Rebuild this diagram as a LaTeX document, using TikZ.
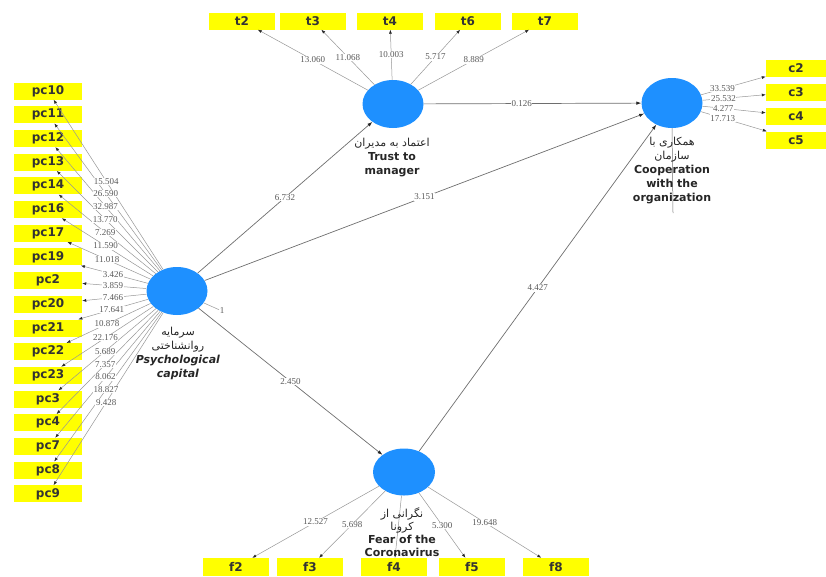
\documentclass[tikz,border=0pt]{standalone}
\usepackage{fontspec}
\setmainfont{DejaVu Sans}
\newfontfamily\numfont{Liberation Serif}
\newfontfamily\farsi[Script=Arabic]{DejaVu Sans}
\TeXXeTstate=1
\usetikzlibrary{arrows.meta,shapes.geometric}
\definecolor{lvblue}{RGB}{30,144,255}
\definecolor{mvyellow}{RGB}{255,255,0}
\definecolor{pathgray}{RGB}{110,110,110}
\definecolor{loadgray}{RGB}{150,150,150}
\tikzset{
  latent/.style={ellipse, fill=lvblue, minimum width=61pt, minimum height=48pt, inner sep=0pt},
  item/.style={rectangle, fill=mvyellow, minimum width=68pt, minimum height=17pt, inner sep=0pt,
    text=black!80, font=\bfseries\fontsize{12}{12}\selectfont},
  load/.style={draw=loadgray, line width=0.5pt, -{Latex[length=4pt,width=3pt,color=black!85]}},
  struct/.style={draw=pathgray, line width=0.7pt, -{Latex[length=5pt,width=3.5pt,color=black!85]}},
  num/.style={font=\numfont\fontsize{9}{9}\selectfont, text=black!65, inner sep=0.6pt, fill=white},
  lvtext/.style={align=center, text=black!85, font=\fontsize{11}{14}\selectfont}
}
\begin{document}
\begin{tikzpicture}[x=1pt,y=-1pt]
\useasboundingbox (0,0) rectangle (826,576);

% latent variables
\node[latent] (psycap) at (177,291) {};
\node[latent] (trust) at (393,104) {};
\node[latent, minimum height=50pt] (coop) at (672,103) {};
\node[latent, minimum width=62pt, minimum height=47pt] (fear) at (404,472) {};

% indicators
\foreach \n [count=\i from 0] in {10,11,12,13,14,16,17,19,2,20,21,22,23,3,4,7,8,9}
  \node[item] (pc\n) at (48,{91+\i*23.7}) {pc\n};
\foreach \n/\x in {2/242,3/313,4/390,6/468,7/545}
  \node[item, minimum width=66pt] (t\n) at (\x,21) {t\n};
\foreach \n/\y in {2/68,3/92,4/116,5/140}
  \node[item, minimum width=60pt] (c\n) at (796,\y) {c\n};
\foreach \n/\x in {2/236,3/310,4/394,5/472,8/556}
  \node[item, minimum width=66pt, minimum height=18pt] (f\n) at (\x,567) {f\n};

% outer loadings
\foreach \n in {10,11,12,13,14,16,17,19,2,20,21,22,23,3,4,7,8,9}
  \draw[load] (psycap) -- (pc\n);
\foreach \n/\v in {10/15.504,11/26.590,12/32.987,13/13.770,14/7.269,16/11.590,17/11.018,
    19/3.426,2/3.859,20/7.466,21/17.641,22/10.878,23/22.176,3/5.689,4/7.357,7/8.062,8/18.827,9/9.428}
  \path (psycap) -- (pc\n) node[num, pos=0.52] {\v};
\foreach \n/\v in {2/13.060,3/11.068,4/10.003,6/5.717,7/8.889}
  \draw[load] (trust) -- (t\n) node[num, pos=0.5] {\v};
\foreach \n/\v in {2/33.539,3/25.532,4/4.277,5/17.713}
  \draw[load] (coop) -- (c\n) node[num, pos=0.33] {\v};
\foreach \n/\v in {2/12.527,3/5.698,5/5.300,8/19.648}
  \draw[load] (fear) -- (f\n) node[num, pos=0.5] {\v};
\draw[load] (fear) -- (f4);

% path coefficients
\draw[struct] (psycap) -- (trust) node[num, pos=0.5] {6.732};
\draw[struct] (psycap) -- (coop) node[num, pos=0.5] {3.151};
\draw[struct] (trust) -- (coop) node[num, pos=0.45] {0.126};
\draw[struct] (psycap) -- (fear) node[num, pos=0.5] {2.450};
\draw[struct] (fear) -- (coop) node[num, pos=0.5] {4.427};

% small marks
\node[num, fill=none] (rsq) at (222,311) {1};
\draw[loadgray, line width=0.5pt] (psycap) -- (rsq);
\coordinate (coopend) at (673,213);
\draw[pathgray, line width=0.5pt] (coop.south) -- (coopend);

% names
\node[lvtext] (psylbl) at (178,353) {{\farsi\beginR سرمایه\endR}\\{\farsi\beginR روانشناختی\endR}\\
  \textbf{\textit{Psychological}}\\\textbf{\textit{capital}}};
\node[lvtext] (trustlbl) at (392,158) {{\farsi\beginR اعتماد به مدیران\endR}\\\textbf{Trust to}\\\textbf{manager}};
\node[lvtext] (cooplbl) at (672,171) {{\farsi\beginR همکاری با\endR}\\{\farsi\beginR سازمان\endR}\\
  \textbf{Cooperation}\\\textbf{with the}\\\textbf{organization}};
\node[lvtext, font=\fontsize{11}{13}\selectfont] (fearlbl) at (402,532) {{\farsi\beginR نگرانی از\endR}\\{\farsi\beginR کرونا\endR}\\
  \textbf{Fear of the}\\\textbf{Coronavirus}};
\end{tikzpicture}
\end{document}
